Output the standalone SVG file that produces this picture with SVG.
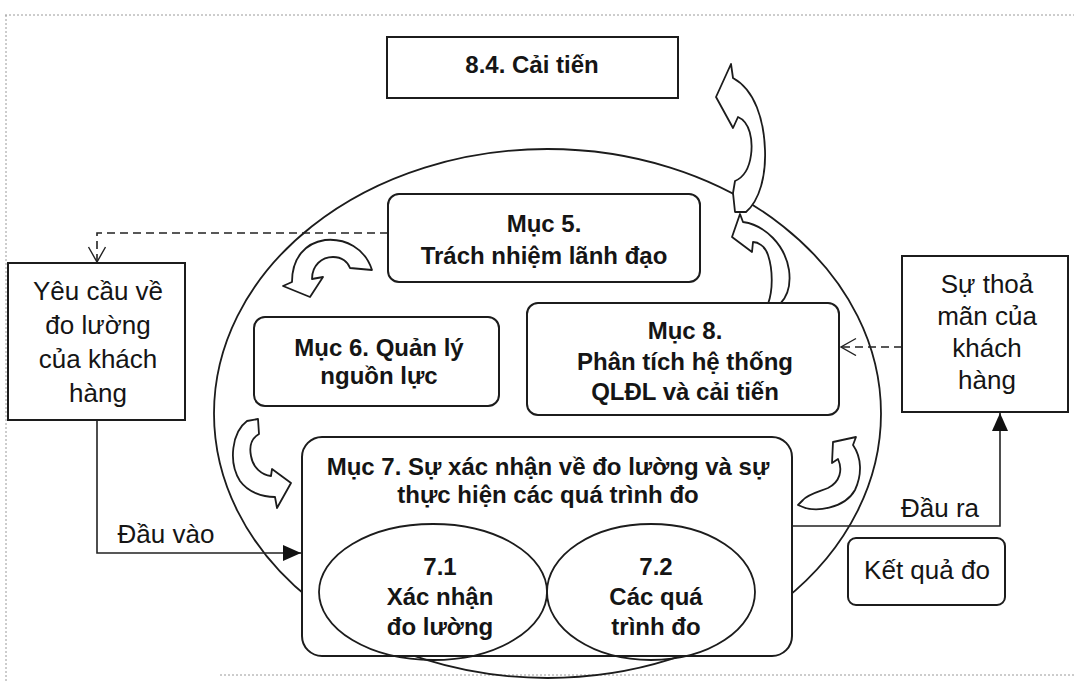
<svg xmlns="http://www.w3.org/2000/svg" width="1074" height="683" viewBox="0 0 1074 683">
<defs>
<style>
.box{fill:#fff;stroke:#1c1c1c;stroke-width:2}
.cyc{fill:none;stroke:#1c1c1c;stroke-width:1.8}
.arr{fill:#fff;stroke:#1c1c1c;stroke-width:1.8;stroke-linejoin:round}
.b{font-family:"Liberation Sans",Arial,sans-serif;font-weight:bold;font-size:24px;fill:#151515;text-anchor:middle}
.r{font-family:"Liberation Sans",Arial,sans-serif;font-size:26px;fill:#151515;text-anchor:middle}
.dash{fill:none;stroke:#222;stroke-width:1.6;stroke-dasharray:8 5}
.solid{fill:none;stroke:#222;stroke-width:1.6}
.border{fill:none;stroke:#9a9a9a;stroke-width:1;stroke-dasharray:2 2}
</style>
<marker id="open" markerWidth="20" markerHeight="20" refX="16" refY="9" orient="auto" markerUnits="userSpaceOnUse"><path d="M1,0.5 L16,9 L1,17.5" fill="none" stroke="#222" stroke-width="1.4"/></marker>
<marker id="filled" markerWidth="20" markerHeight="18" refX="18" refY="8" orient="auto" markerUnits="userSpaceOnUse"><path d="M0,0 L18,8 L0,16 Z" fill="#111"/></marker>
</defs>
<rect width="1074" height="683" fill="#fff"/>
<g id="page-border">
<path class="border" d="M5,15 H1074 M6,15 V683 M220,675 H1074"/>
</g>
<g id="cycle">
<ellipse class="cyc" cx="547.5" cy="413.5" rx="333.5" ry="264.5"/>
</g>
<g id="connectors">
<path class="dash" d="M388,233 H97 V262" marker-end="url(#open)"/>
<path class="dash" d="M902,347 H841" marker-end="url(#open)"/>
<path class="solid" d="M97,420 V553 H301" marker-end="url(#filled)"/>
<path class="solid" d="M792,526 H1000 V413" marker-end="url(#filled)"/>
<text class="r" x="166" y="543">Đầu vào</text>
<text class="r" x="940" y="517">Đầu ra</text>
</g>
<g id="cycle-arrows">
<path id="arrow-top" class="arr" d="M731,64 L716,97 L733,128 L738,117 C750,122 753,140 751,155 C749,170 742,178 735,181 L733,193 L735,212 L746,212 C760,200 766,175 765,150 C764,120 755,90 733,78 Z"/>
<path id="arrow-8-5" class="arr" d="M740,214 L743,222 C765,225 785,245 789,270 C791,285 787,297 780,304 L768,304 C773,290 773,270 768,255 C765,246 758,242 753,242 L752,252 L732,237 Z"/>
<path id="arrow-5-6" class="arr" d="M372,270 C365,248 345,238 325,240 C305,243 292,258 292,282 L283,286 L310,297 L323,277 L312,279 C312,265 322,257 333,257 C342,257 348,262 350,268 Z"/>
<path id="arrow-6-7" class="arr" d="M247,421 C232,432 228,462 240,481 C248,492 262,497 275,497 L277,508 L291,483 L272,469 L271,476 C262,475 253,468 251,456 C249,446 252,438 259,434 L258,419 Z"/>
<path id="arrow-7-8" class="arr" d="M798,505 C815,514 845,508 855,490 C862,475 862,458 853,445 L856,437 L833,442 L832,463 L838,459 C843,470 840,482 828,488 C818,492 808,494 803,500 Z"/>
</g>
<g id="n84">
<rect class="box" x="387" y="37" width="291" height="61"/>
<text class="b" x="532" y="73">8.4. Cải tiến</text>
</g>
<g id="muc5">
<rect class="box" x="388" y="194" width="312" height="88" rx="11"/>
<text class="b" x="544" y="232">Mục 5.</text>
<text class="b" x="544" y="264">Trách nhiệm lãnh đạo</text>
</g>
<g id="muc6">
<rect class="box" x="254" y="317" width="245" height="89" rx="11"/>
<text class="b" x="379" y="356">Mục 6. Quản lý</text>
<text class="b" x="379" y="384">nguồn lực</text>
</g>
<g id="muc8">
<rect class="box" x="527" y="303" width="312" height="112" rx="11"/>
<text class="b" x="685" y="339">Mục 8.</text>
<text class="b" x="685" y="370">Phân tích hệ thống</text>
<text class="b" x="685" y="400">QLĐL và cải tiến</text>
</g>
<g id="muc7">
<rect class="box" x="302" y="437" width="490" height="219" rx="20"/>
<text class="b" x="548" y="475">Mục 7. Sự xác nhận về đo lường và sự</text>
<text class="b" x="548" y="503">thực hiện các quá trình đo</text>
</g>
<g id="n71">
<ellipse class="cyc" cx="433" cy="592" rx="114" ry="68"/>
<text class="b" x="440" y="575">7.1</text>
<text class="b" x="440" y="605">Xác nhận</text>
<text class="b" x="440" y="635">đo lường</text>
</g>
<g id="n72">
<ellipse class="cyc" cx="651" cy="592" rx="104" ry="68"/>
<text class="b" x="656" y="575">7.2</text>
<text class="b" x="656" y="605">Các quá</text>
<text class="b" x="656" y="635">trình đo</text>
</g>
<g id="yeucau">
<rect class="box" x="8" y="263" width="177" height="157"/>
<text class="r" x="98" y="300">Yêu cầu về</text>
<text class="r" x="98" y="334">đo lường</text>
<text class="r" x="98" y="368">của khách</text>
<text class="r" x="98" y="402">hàng</text>
</g>
<g id="thoaman">
<rect class="box" x="902" y="256" width="166" height="156"/>
<text class="r" x="987" y="293">Sự thoả</text>
<text class="r" x="987" y="325">mãn của</text>
<text class="r" x="987" y="357">khách</text>
<text class="r" x="987" y="389">hàng</text>
</g>
<g id="ketqua">
<rect class="box" x="848" y="538" width="157" height="67" rx="8"/>
<text class="r" x="927" y="579">Kết quả đo</text>
</g>
</svg>
